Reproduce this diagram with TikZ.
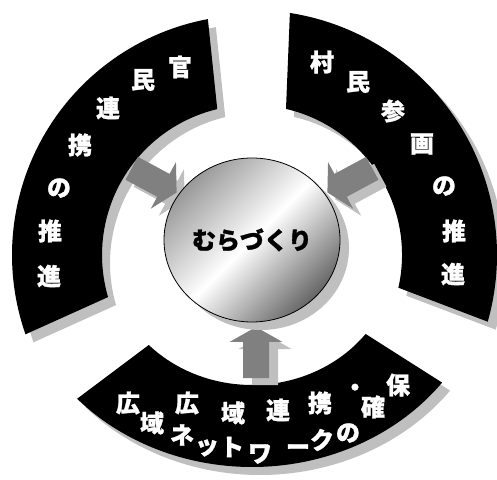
\documentclass[tikz,border=0pt]{standalone}
\usepackage{fontspec}
\newfontfamily\jp{Noto Sans CJK JP}[BoldFeatures={FakeBold=1.2}]
\newcommand\segL[1]{\fill[#1] ([shift={(100.6:240)}]252,224) arc[start angle=100.6,end angle=199.3,radius=240] -- ([shift={(196.3:150)}]252,224) arc[start angle=196.3,end angle=103.4,radius=150] -- cycle;}
\newcommand\segR[1]{\fill[#1] ([shift={(81.1:245)}]252,224) arc[start angle=81.1,end angle=-15.8,radius=245] -- ([shift={(-12.6:150)}]252,224) arc[start angle=-12.6,end angle=76.9,radius=150] -- cycle;}
\newcommand\segB[1]{\fill[#1] ([shift={(222.7:238 and 212)}]252,224) arc[start angle=222.7,end angle=323,x radius=238,y radius=212] -- ([shift={(322.6:143 and 130)}]252,224) arc[start angle=322.6,end angle=223.8,x radius=143,y radius=130] -- cycle;}
\newcommand\blockarrow[3]{\fill[#1,shift={#2},rotate=#3] (0,-13) -- (36,-13) -- (36,-26.5) -- (51,0) -- (36,26.5) -- (36,13) -- (0,13) -- cycle;}
\begin{document}
\begin{tikzpicture}[x=1pt,y=1pt,
  segtxt/.style={text=white,font=\jp\bfseries\fontsize{24}{24}\selectfont,inner sep=0pt},
  maintxt/.style={text=black,font=\jp\bfseries\fontsize{24}{24}\selectfont,inner sep=0pt}]
\useasboundingbox (0,0) rectangle (497,479);
% segment shadows
\segL{gray!50,shift={(8,-8)}}
\segR{gray!50,shift={(8,-8)}}
\segB{gray!50,shift={(8,-8)}}
% segments
\segL{black}
\segR{black}
\segB{black}
% arrow shadows
\blockarrow{gray!50}{(139.7,303.7)}{-28.3}
\blockarrow{gray!50}{(380.3,303.7)}{208.3}
\blockarrow{gray!50}{(265,94)}{90}
% arrows
\blockarrow{gray}{(131.7,310.7)}{-28.3}
\blockarrow{gray}{(372.3,310.7)}{208.3}
\blockarrow{gray}{(256,101)}{90}
% central sphere
\fill[gray!50] (261,231) ellipse[x radius=88,y radius=82];
\shade[top color=gray!80,bottom color=black!60,middle color=white,shading angle=45] (252,239) ellipse[x radius=88,y radius=82];
\draw[black,line width=0.8pt] (252,239) ellipse[x radius=88,y radius=82];
\node[maintxt] (center) at (252,239) {むらづくり};
% left segment text
\node[segtxt] (l1) at (180,412) {官};
\node[segtxt] (l2) at (143,399) {民};
\node[segtxt] (l3) at (108,371) {連};
\node[segtxt] (l4) at (80,334) {携};
\node[segtxt] (l5) at (59,291) {の};
\node[segtxt] (l6) at (50,248) {推};
\node[segtxt] (l7) at (49,203) {進};
% right segment text
\node[segtxt] (r1) at (322,417) {村};
\node[segtxt] (r2) at (358,397) {民};
\node[segtxt] (r3) at (393,368) {参};
\node[segtxt] (r4) at (422,335) {画};
\node[segtxt] (r5) at (444,293) {の};
\node[segtxt] (r6) at (454,248) {推};
\node[segtxt] (r7) at (453,205) {進};
% bottom segment text
\node[segtxt] (b1) at (128,76) {広};
\node[segtxt] (b2) at (152,56) {域};
\node[segtxt] (b3) at (187,76) {広};
\node[segtxt] (b4) at (182,44) {ネ};
\node[segtxt] (b5) at (233,66) {域};
\node[segtxt] (b6) at (207,31) {ッ};
\node[segtxt] (b7) at (232,32) {ト};
\node[segtxt] (b8) at (278,69) {連};
\node[segtxt] (b9) at (260,25) {ワ};
\node[segtxt] (b10) at (320,76) {携};
\node[segtxt] (b11) at (298,29) {ー};
\node[segtxt] (b12) at (322,39) {ク};
\node[segtxt] (b13) at (348,46) {の};
\node[segtxt] (b14) at (355,89) {・};
\node[segtxt] (b15) at (373,72) {確};
\node[segtxt] (b16) at (398,94) {保};
\end{tikzpicture}
\end{document}
